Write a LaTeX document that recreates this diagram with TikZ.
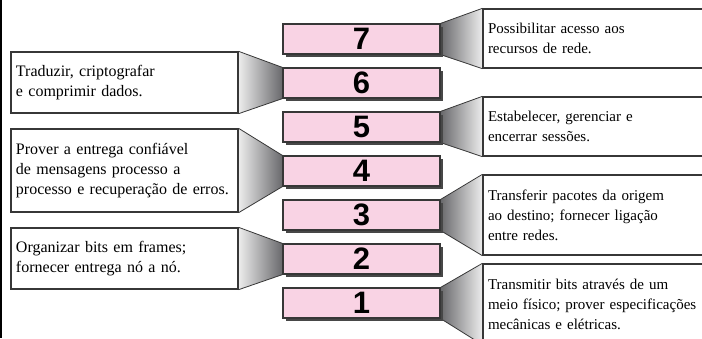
\documentclass[tikz,border=0pt]{standalone}
\usepackage{fontspec}
\setmainfont{Liberation Serif}
\newfontfamily\digitfont{Liberation Sans}
\usetikzlibrary{shadows,backgrounds}
\definecolor{pinkfill}{RGB}{249,211,228}
\definecolor{edgegray}{RGB}{55,55,55}
\definecolor{lightshade}{RGB}{236,236,236}
\definecolor{darkshade}{RGB}{105,105,108}
\begin{document}
\begin{tikzpicture}[x=1pt,y=-1pt,
  layerbox/.style={draw=edgegray,line width=1.2pt,fill=pinkfill,minimum width=157pt,minimum height=30pt,inner sep=0pt,
    font=\digitfont\bfseries\fontsize{31}{31}\selectfont,
    drop shadow={shadow xshift=3pt,shadow yshift=-3pt,fill=black!72,opacity=1}},
  leftdesc/.style={draw=edgegray,line width=1.3pt,fill=white,minimum width=227pt,text width=217pt,inner xsep=5pt,inner ysep=0pt,align=left,
    font=\fontsize{16}{20}\selectfont},
  rightdesc/.style={draw=edgegray,line width=1.3pt,fill=white,minimum width=237pt,text width=227pt,inner xsep=5pt,inner ysep=0pt,align=left,
    font=\fontsize{15}{20}\selectfont},
  funnel/.style={draw=edgegray,line width=0.8pt}
]
\useasboundingbox (0,0) rectangle (702,338);
\clip (0,0) rectangle (702,338);
\fill[black] (0,0) rectangle (2,338);

% layer boxes
\node[layerbox] (p7) at (361.5,39) {7};
\node[layerbox] (p6) at (361.5,83) {6};
\node[layerbox] (p5) at (361.5,127) {5};
\node[layerbox] (p4) at (361.5,171) {4};
\node[layerbox] (p3) at (361.5,215) {3};
\node[layerbox] (p2) at (361.5,259) {2};
\node[layerbox] (p1) at (361.5,303) {1};

% left descriptions
\node[leftdesc,minimum height=61pt] (l6) at (124.5,82.5) {Traduzir, criptografar\\e comprimir dados.};
\node[leftdesc,minimum height=83pt] (l4) at (124.5,170.5) {Prover a entrega confiável\\de mensagens processo a\\processo e recuperação de erros.};
\node[leftdesc,minimum height=61pt] (l2) at (124.5,258.5) {Organizar bits em frames;\\fornecer entrega nó a nó.};

% right descriptions
\node[rightdesc,minimum height=59pt] (r7) at (601.5,38.5) {Possibilitar acesso aos\\recursos de rede.};
\node[rightdesc,minimum height=59pt] (r5) at (601.5,126.5) {Estabelecer, gerenciar e\\encerrar sessões.};
\node[rightdesc,minimum height=80pt] (r3) at (601.5,215) {Transferir pacotes da origem\\ao destino; fornecer ligação\\entre redes.};
\node[rightdesc,minimum height=80pt] (r1) at (601.5,304) {Transmitir bits através de um\\meio físico; prover especificações\\mecânicas e elétricas.};

% funnels
\begin{scope}[on background layer]
\foreach \d/\l in {l6/p6,l4/p4,l2/p2}{
  \shade[left color=lightshade,right color=darkshade] (\d.north east) -- (\l.north west) -- (\l.south west) -- (\d.south east) -- cycle;
  \draw[funnel] (\d.north east) -- (\l.north west);
  \draw[funnel] (\d.south east) -- (\l.south west);
}
\foreach \l/\d in {p7/r7,p5/r5,p3/r3,p1/r1}{
  \shade[left color=darkshade,right color=lightshade] (\l.north east) -- (\d.north west) -- (\d.south west) -- (\l.south east) -- cycle;
  \draw[funnel] (\l.north east) -- (\d.north west);
  \draw[funnel] (\l.south east) -- (\d.south west);
}
\end{scope}
\end{tikzpicture}
\end{document}
